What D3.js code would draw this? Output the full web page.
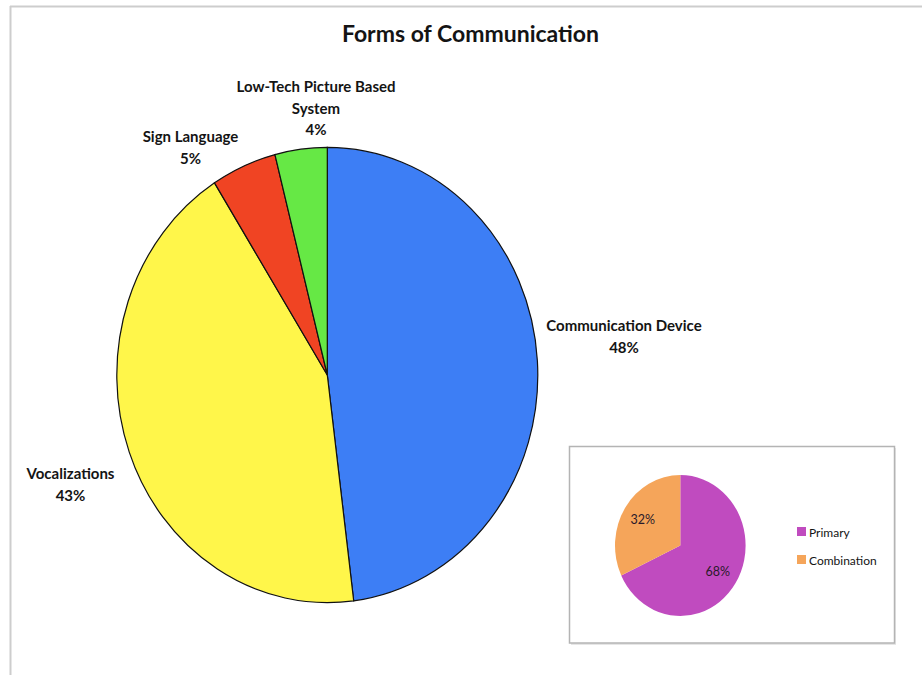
<!DOCTYPE html>
<html>
<head>
<meta charset="utf-8">
<script src="https://cdn.jsdelivr.net/npm/d3@7"></script>
<style>
  html, body { margin: 0; padding: 0; background: #fff; }
  svg { display: block; }
  text { font-family: Lato, "Open Sans", sans-serif; fill: #141414; }
</style>
</head>
<body>
<svg id="chart" width="922" height="675"></svg>
<script>
// Main chart data
const formLabels = ["Communication Device", "Vocalizations", "Sign Language", "Low-Tech Picture Based System"];
const formValues = [48, 43, 5, 4];

// Inset chart data
const usageLabels = ["Primary", "Combination"];
const usageValues = [68, 32];

const svg = d3.select("#chart");

// Page frame (top and left rules)
svg.append("line").attr("x1", 10).attr("x2", 922).attr("y1", 6.5).attr("y2", 6.5)
  .attr("stroke", "#cdcdcd").attr("stroke-width", 2);
svg.append("line").attr("x1", 10.5).attr("x2", 10.5).attr("y1", 6).attr("y2", 675)
  .attr("stroke", "#cdcdcd").attr("stroke-width", 2);

// Title
svg.append("text").attr("x", 470.5).attr("y", 42).attr("text-anchor", "middle")
  .style("font-size", "23px").style("font-weight", "bold")
  .text("Forms of Communication");

// ---- Main pie ----
const mainColor = d3.scaleOrdinal().domain(formLabels)
  .range(["#3d7ef5", "#fff64a", "#f04423", "#66e845"]);

const pie = d3.pie().sort(null).value(d => d.value);
const mainData = pie(formLabels.map((l, i) => ({ label: l, value: formValues[i] })));

const mainRx = 210.5, mainRy = 227.6;
const mainArc = d3.arc().innerRadius(0).outerRadius(mainRx);
const mainG = svg.append("g")
  .attr("transform", `translate(327.3,375) scale(1,${mainRy / mainRx})`);
mainG.selectAll("path").data(mainData).join("path")
  .attr("d", mainArc)
  .attr("fill", d => mainColor(d.data.label))
  .attr("stroke", "#111")
  .attr("stroke-width", 1.2)
  .attr("vector-effect", "non-scaling-stroke");

// Outside labels: text lines + percentage
const labelLayout = [
  { x: 624, y: 331, lines: ["Communication Device"] },
  { x: 70.5, y: 479, lines: ["Vocalizations"] },
  { x: 190.5, y: 142, lines: ["Sign Language"] },
  { x: 316, y: 92, lines: ["Low-Tech Picture Based", "System"] }
];
const pctFmt = v => Math.round(v) + "%";
mainData.forEach((d, i) => {
  const L = labelLayout[i];
  const t = svg.append("text").attr("text-anchor", "middle")
    .style("font-size", "15px").style("font-weight", "bold");
  const lines = L.lines.concat([pctFmt(d.data.value)]);
  lines.forEach((s, j) => {
    t.append("tspan").attr("x", L.x).attr("y", L.y + j * 21.5).text(s);
  });
});

// ---- Inset panel ----
svg.append("rect").attr("x", 571).attr("y", 448).attr("width", 325).attr("height", 197)
  .attr("fill", "#e6e6e6");
svg.append("rect").attr("x", 569.5).attr("y", 446.5).attr("width", 325).attr("height", 196.5)
  .attr("fill", "#fff").attr("stroke", "#b4b4b4").attr("stroke-width", 1.5);

const usageColor = d3.scaleOrdinal().domain(usageLabels).range(["#c04bbf", "#f5a55a"]);
const usageData = pie(usageLabels.map((l, i) => ({ label: l, value: usageValues[i] })));
const insetRx = 65.3, insetRy = 70.5;
const insetArc = d3.arc().innerRadius(0).outerRadius(insetRx);
const insetG = svg.append("g")
  .attr("transform", `translate(680.3,545.5) scale(1,${insetRy / insetRx})`);
insetG.selectAll("path").data(usageData).join("path")
  .attr("d", insetArc)
  .attr("fill", d => usageColor(d.data.label));

// Percent labels inside the inset slices
const insetLabelArc = d3.arc().innerRadius(insetRx * 0.68).outerRadius(insetRx * 0.68);
svg.append("g").attr("transform", "translate(680.3,545.5)")
  .selectAll("text").data(usageData).join("text")
  .attr("x", d => insetLabelArc.centroid(d)[0])
  .attr("y", d => insetLabelArc.centroid(d)[1] * insetRy / insetRx + 4.5)
  .attr("text-anchor", "middle")
  .style("font-size", "12.5px")
  .style("fill", "#2a1a2a")
  .text(d => pctFmt(d.data.value));

// Legend
const legend = svg.append("g").attr("transform", "translate(797,527)");
const items = legend.selectAll("g").data(usageLabels).join("g")
  .attr("transform", (d, i) => `translate(0,${i * 28})`);
items.append("rect").attr("width", 9).attr("height", 9).attr("fill", d => usageColor(d));
items.append("text").attr("x", 12).attr("y", 9.5)
  .style("font-size", "12px").text(d => d);
</script>
</body>
</html>
